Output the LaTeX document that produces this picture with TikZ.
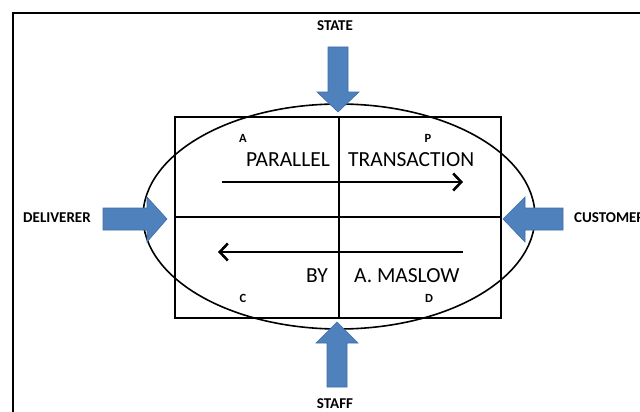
\documentclass[tikz,border=0pt]{standalone}
\usepackage{fontspec}
\setmainfont{Carlito}
\usetikzlibrary{arrows.meta}
\definecolor{blockblue}{HTML}{4F81BD}
\definecolor{blockedge}{HTML}{3F6FA8}
\tikzset{
  blockarrow/.style={fill=blockblue, draw=blockedge, line width=0.6pt},
  sidelabel/.style={font=\fontsize{15}{15}\selectfont\bfseries, inner sep=0pt},
  cornerlabel/.style={font=\fontsize{12.5}{12.5}\selectfont\bfseries, inner sep=0pt},
  mainlabel/.style={font=\fontsize{21.5}{21.5}\selectfont, inner sep=0pt},
  flow/.style={line width=2.6pt, -{Straight Barb[length=8pt,width=17pt,line width=2.6pt]}},
  frameline/.style={line width=1.6pt},
}
\begin{document}
\begin{tikzpicture}[x=1pt,y=-1pt]
\useasboundingbox (0,0) rectangle (640,412);
\fill[white] (0,0) rectangle (640,412);
% outer frame (extends beyond the page)
\draw[line width=1.8pt] (13,430) -- (13,13) -- (660,13);
% grid rectangle and dividers
\draw[frameline] (175,117) rectangle (501,318);
\coordinate (vtop) at (339,117);
\coordinate (vbot) at (339,318);
\coordinate (hleft) at (175,217);
\coordinate (hright) at (501,217);
\draw[frameline] (vtop) -- (vbot);
\draw[frameline] (hleft) -- (hright);
% ellipse
\draw[frameline] (339,216.5) ellipse [x radius=196, y radius=112.5];
% block arrows
\draw[blockarrow] (328,47) -- (348,47) -- (348,92) -- (359,92) -- (338,112) -- (317,92) -- (328,92) -- cycle;
\draw[blockarrow] (327,387) -- (347,387) -- (347,343) -- (358,343) -- (337,322) -- (316,343) -- (327,343) -- cycle;
\draw[blockarrow] (103,208) -- (147,208) -- (147,197) -- (167,219) -- (147,242) -- (147,230) -- (103,230) -- cycle;
\draw[blockarrow] (563,208) -- (525,208) -- (525,197) -- (503,219) -- (525,242) -- (525,230) -- (563,230) -- cycle;
% side labels
\node[sidelabel] (state) at (335,26) {STATE};
\node[sidelabel] (staff) at (335,404) {STAFF};
\node[sidelabel] (deliverer) at (57,218) {DELIVERER};
\node[sidelabel, anchor=west] (customer) at (574,218) {CUSTOMER};
% corner labels
\node[cornerlabel] (lA) at (243,138) {A};
\node[cornerlabel] (lP) at (428,138) {P};
\node[cornerlabel] (lC) at (243,298) {C};
\node[cornerlabel] (lD) at (429,298) {D};
% main labels
\node[mainlabel, anchor=east] (parallel) at (330,160) {PARALLEL};
\node[mainlabel, anchor=west] (transaction) at (348,160) {TRANSACTION};
\node[mainlabel, anchor=east] (by) at (328,276) {BY};
\node[mainlabel, anchor=west] (maslow) at (354,276) {A. MASLOW};
% flow arrows
\coordinate (f1s) at (222,182);
\coordinate (f1e) at (463,182);
\coordinate (f2s) at (463,252);
\coordinate (f2e) at (218,252);
\draw[flow] (f1s) -- (f1e);
\draw[flow] (f2s) -- (f2e);
\end{tikzpicture}
\end{document}
